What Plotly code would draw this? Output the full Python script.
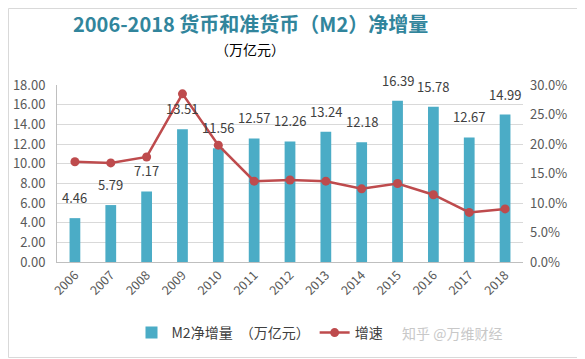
import plotly.graph_objects as go

years = ["2006", "2007", "2008", "2009", "2010", "2011", "2012",
         "2013", "2014", "2015", "2016", "2017", "2018"]
m2_increase = [4.46, 5.79, 7.17, 13.51, 11.56, 12.57, 12.26,
               13.24, 12.18, 16.39, 15.78, 12.67, 14.99]
growth_rate = [0.170, 0.168, 0.178, 0.285, 0.198, 0.137, 0.139,
               0.137, 0.124, 0.133, 0.114, 0.084, 0.090]

left_ticks = [0, 2, 4, 6, 8, 10, 12, 14, 16, 18]
right_ticks = [0, 0.05, 0.10, 0.15, 0.20, 0.25, 0.30]

FONT = "Noto Sans CJK SC, sans-serif"
BAR_COLOR = "#4BACC6"
LINE_COLOR = "#BE4B4D"
TICK_COLOR = "#595959"

# page body has an 8px default margin; figure is sized/offset to compensate
OFF = 8
W, H = 585 - OFF, 359 - OFF
PL, PR, PT, PB = 57 - OFF, 523 - OFF, 85 - OFF, 262 - OFF
PW, PH = PR - PL, PB - PT


def px(xp):
    return (xp - OFF - PL) / PW


def py(yp):
    return (PB - (yp - OFF)) / PH


idx = list(range(len(years)))

fig = go.Figure()
fig.add_trace(go.Bar(
    x=idx, y=m2_increase, name="M2净增量　（万亿元）",
    marker=dict(color=BAR_COLOR, line=dict(width=0)),
    width=0.3, yaxis="y",
))
fig.add_trace(go.Scatter(
    x=idx, y=growth_rate, name="增速", mode="lines+markers",
    line=dict(color=LINE_COLOR, width=2.5),
    marker=dict(color=LINE_COLOR, size=9),
    yaxis="y2",
))

for i, v in zip(idx, m2_increase):
    fig.add_annotation(x=i, y=v, xref="x", yref="y", text=f"{v:.2f}",
                       showarrow=False, yanchor="bottom", yshift=9,
                       font=dict(size=13, color="#404040", family=FONT))

fig.add_annotation(x=px(250), y=py(24), xref="paper", yref="paper",
                   text="<b>2006-2018 货币和准货币（M2）净增量</b>", showarrow=False,
                   xanchor="center", yanchor="middle",
                   font=dict(size=20, color="#31859C", family=FONT))
fig.add_annotation(x=px(250), y=py(49), xref="paper", yref="paper",
                   text="（万亿元）", showarrow=False,
                   xanchor="center", yanchor="middle",
                   font=dict(size=14, color="#000000", family=FONT))
fig.add_annotation(x=px(452), y=py(333), xref="paper", yref="paper",
                   text="知乎 @万维财经", showarrow=False,
                   xanchor="center", yanchor="middle",
                   font=dict(size=14, color="#C8C8C8", family=FONT))

fig.add_shape(type="rect", xref="paper", yref="paper",
              x0=(0.5 - PL) / PW, x1=(W - 1.5 - PL) / PW,
              y0=(PB - (H - 1.5)) / PH, y1=(PB - 0.5) / PH,
              line=dict(color="#D9D9D9", width=1), fillcolor="rgba(0,0,0,0)", layer="below")

fig.update_layout(
    width=W, height=H,
    margin=dict(l=PL, r=W - PR, t=PT, b=H - PB, autoexpand=False),
    paper_bgcolor="white", plot_bgcolor="white",
    font=dict(family=FONT, color=TICK_COLOR, size=12),
    showlegend=True,
    legend=dict(orientation="h", x=px(260), y=py(333),
                xanchor="center", yanchor="middle",
                font=dict(size=14, color="#404040", family=FONT),
                bgcolor="rgba(0,0,0,0)"),
    xaxis=dict(range=[-0.5, len(years) - 0.5], tickvals=idx, ticktext=years,
               tickangle=-45, showgrid=False,
               showline=True, linecolor="#BFBFBF", linewidth=1,
               tickfont=dict(size=12.5, color=TICK_COLOR), ticks="", zeroline=False),
    yaxis=dict(range=[0, 18], tickvals=left_ticks, tickformat=".2f",
               showgrid=True, gridcolor="#D9D9D9", gridwidth=1,
               showline=True, linecolor="#BFBFBF", linewidth=1,
               zeroline=False, ticklabelstandoff=8,
               tickfont=dict(size=13, color=TICK_COLOR)),
    yaxis2=dict(range=[0, 0.30], tickvals=right_ticks, tickformat=".1%",
                overlaying="y", side="right", showgrid=False,
                zeroline=False, showline=False, ticklabelstandoff=6,
                tickfont=dict(size=13, color=TICK_COLOR)),
)

fig.write_html("out.html")
